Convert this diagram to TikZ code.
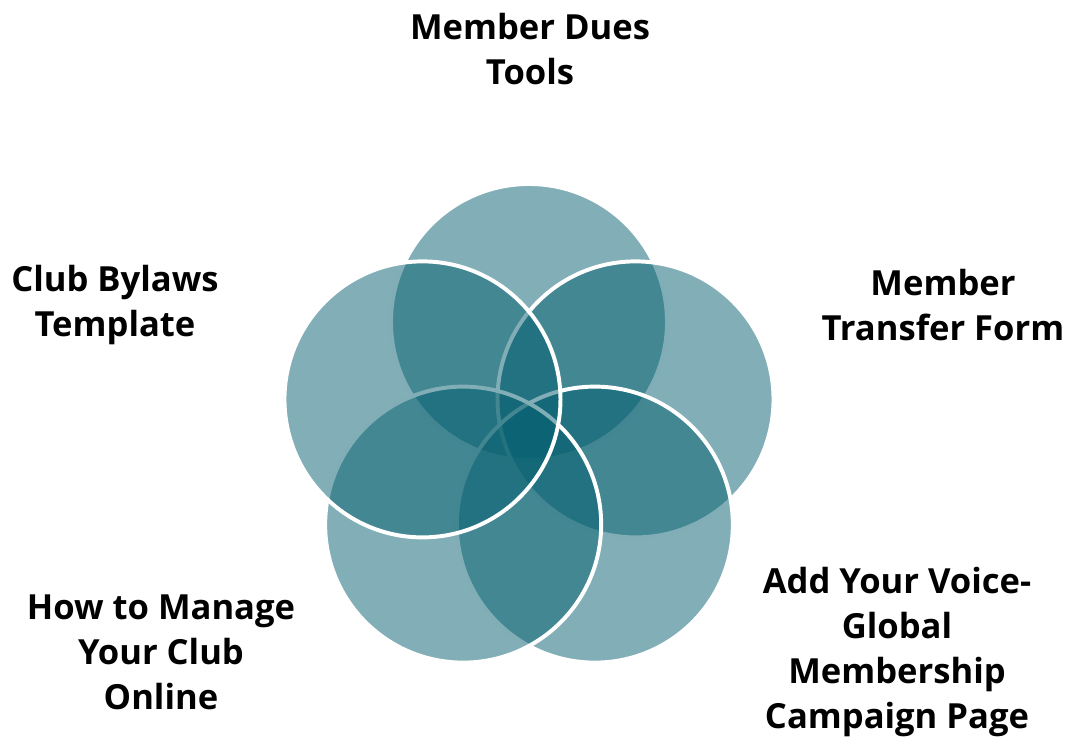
\documentclass[tikz,border=0pt]{standalone}
\usepackage{fontspec}
\setmainfont{Open Sans}
\definecolor{vennteal}{RGB}{5,95,111}
\tikzset{
    petal/.style={circle, minimum size=6.9cm, inner sep=0pt,
      fill=vennteal, fill opacity=0.5, draw=white, line width=2.8pt},
    caption/.style={align=center, inner sep=0pt,
      font=\fontsize{24.6}{32}\selectfont\bfseries},
}

\begin{document}
\begin{tikzpicture}
    \useasboundingbox (-13.225,-7.625) rectangle (13.475,10.85);

    % five circles, clockwise from the top; later ones lie over earlier ones
    \foreach \name/\ang in {dues/90, transfer/18, voice/-54, manage/-126, bylaws/162}
      \node[petal] (\name) at (\ang:2.8) {};

    \node[caption] (duesText) at (0.025,9.62) {Member Dues\\Tools};
    \node[caption] (transferText) at (10.35,3.225) {Member\\Transfer Form};
    \node[caption] (voiceText) at (9.2,-5.45) {Add Your Voice-\\Global\\Membership\\Campaign Page};
    \node[caption] (manageText) at (-9.2,-5.45) {How to Manage\\Your Club\\Online};
    \node[caption] (bylawsText) at (-10.35,3.225) {Club Bylaws\\Template};
\end{tikzpicture}
\end{document}
